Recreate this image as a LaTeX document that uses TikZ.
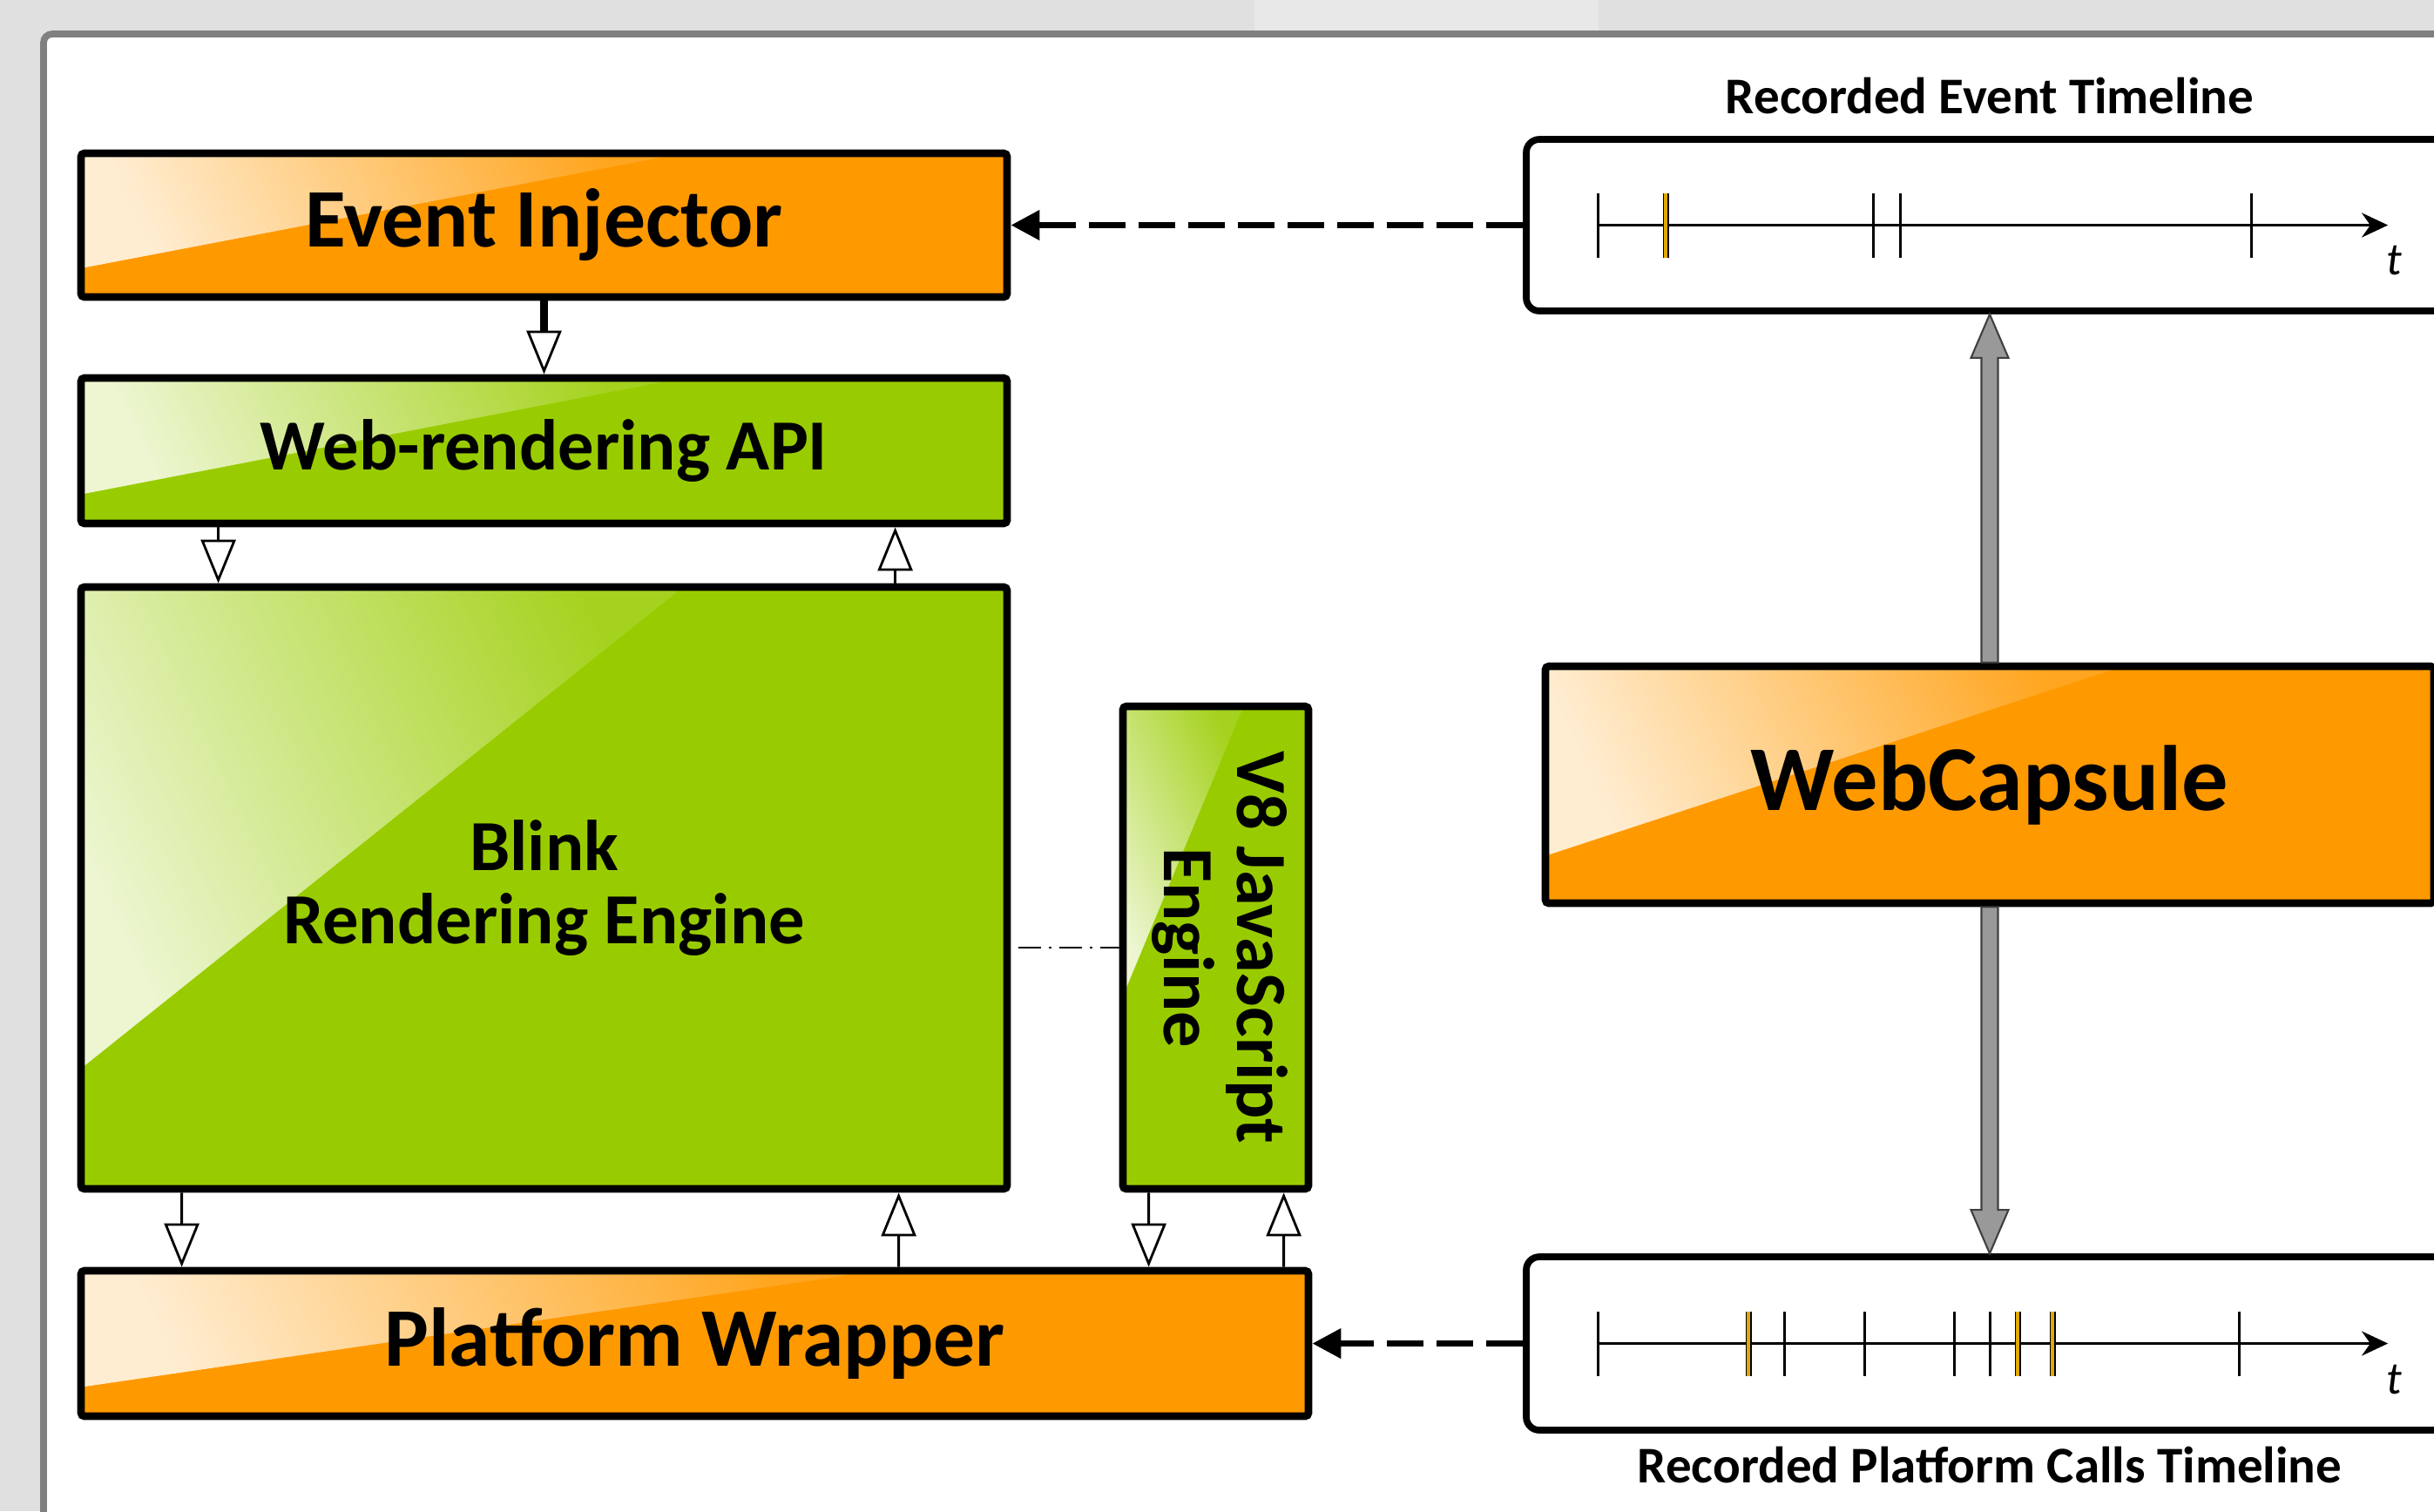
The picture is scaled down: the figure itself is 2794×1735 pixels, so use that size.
\documentclass[tikz,border=0pt]{standalone}
\usepackage{fontspec}
\setmainfont{Carlito}
\usetikzlibrary{arrows.meta,calc,positioning}

\definecolor{boxorange}{RGB}{255,153,0}
\definecolor{boxgreen}{RGB}{153,204,0}
\definecolor{pagegray}{RGB}{224,224,224}
\definecolor{framegray}{RGB}{128,128,128}
\definecolor{pipegray}{RGB}{153,153,153}
\definecolor{tickgold}{RGB}{224,168,0}

% wide grey pipe from anchor #1 to anchor #2 (tip at #2)
\newcommand{\pipearrow}[2]{%
  \path (#2) coordinate (pipetip) ($(#2)!5mm!(#1)$) coordinate (pipeneck);
  \filldraw[pipe] ($(#1)!0.95mm!90:(#2)$) -- ($(pipeneck)!0.95mm!90:(pipetip)$)
    -- ($(pipeneck)!2.15mm!90:(pipetip)$) -- (pipetip)
    -- ($(pipeneck)!2.15mm!-90:(pipetip)$) -- ($(pipeneck)!0.95mm!-90:(pipetip)$)
    -- ($(#1)!0.95mm!-90:(#2)$) -- cycle;
}

\begin{document}
\begin{tikzpicture}[
        x=0.1mm, y=-0.1mm,
        gloss depth/.store in=\glossdepth, gloss depth=0.8,
        block/.style={draw, line width=2.5pt, fill=#1, rounded corners=0.4mm, inner sep=0pt, align=center,
            path picture={
                \coordinate (gNW) at (path picture bounding box.north west);
                \coordinate (gNE) at (path picture bounding box.north east);
                \coordinate (gSW) at (path picture bounding box.south west);
                \shade[left color=#1!18!white, right color=#1!88!white, shading angle=115]
                    (gNW) -- ($(gNW)!0.65!(gNE)$) -- ($(gNW)!\glossdepth!(gSW)$) -- cycle;}},
        bigtext/.style={font=\bfseries\fontsize{27.2pt}{28pt}\selectfont},
        midtext/.style={font=\bfseries\fontsize{23.5pt}{24pt}\selectfont},
        lane/.style={draw, line width=2.2pt, fill=white, rounded corners=1.5mm, minimum width=106.4mm, minimum height=19.7mm},
        lanetitle/.style={font=\bfseries\fontsize{16.8pt}{18pt}\selectfont, inner sep=0pt},
        tlabel/.style={font=\normalfont\itshape\fontsize{15pt}{16pt}\selectfont, inner sep=0pt},
        flow/.style={line width=0.8pt, -{Triangle[fill=white, length=5mm, width=4mm]}},
        replay/.style={line width=2.1pt, dash pattern=on 4.2mm off 1.5mm, -{Triangle[length=3.3mm, width=3.3mm]}},
        timeaxis/.style={line width=1.1pt, -{Stealth[length=3mm, width=2.8mm]}},
        tick/.style={line width=0.9pt},
        goldtick/.style={draw=black, line width=0.5pt, double=tickgold, double distance=1pt},
        pipe/.style={fill=pipegray, draw=black!75, line width=0.6pt, line join=miter}
    ]
    \useasboundingbox (0,0) rectangle (2794,1735);
    % screen background and panel
    \fill[pagegray] (0,0) rectangle (2794,1735);
    \fill[black!9] (1440,0) rectangle (1835,35);
    \fill[white] (50,39) rectangle (3000,2000);
    \draw[framegray, line width=2.2pt, rounded corners=1mm] (50,2000) |- (3000,39);

    % browser side
    \node[block=boxorange, bigtext, minimum width=106.3mm, minimum height=16.5mm] (ei) at (624.5,258.5) {Event Injector};
    \node[block=boxgreen, midtext, minimum width=106.3mm, minimum height=16.7mm] (wr) at (624.5,517.5) {Web-rendering API};
    \node[block=boxgreen, midtext, minimum width=106.3mm, minimum height=69.1mm] (blink) at (624.5,1019.5) {Blink\\Rendering Engine};
    \node[block=boxgreen, midtext, gloss depth=0.6, minimum width=21.3mm, minimum height=55.4mm] (v8) at (1395.5,1088)
        {\rotatebox{-90}{\begin{tabular}{@{}c@{}}V8 JavaScript\\Engine\end{tabular}}};
    \node[block=boxorange, bigtext, minimum width=140.9mm, minimum height=16.7mm] (pw) at (797.5,1542.5) {Platform Wrapper};

    % recorder side
    \node[block=boxorange, font=\bfseries\fontsize{30.3pt}{32pt}\selectfont, minimum width=102mm, minimum height=27.2mm] (wc) at (2284,901) {WebCapsule};
    \node[lane] (tlev) at (2284,258.5) {};
    \node[lane, minimum height=19.9mm] (tlpc) at (2284,1542.5) {};
    \node[lanetitle, anchor=base] (evtitle) at ($(tlev.north)+(0,-26)$) {Recorded Event Timeline};
    \node[lanetitle, anchor=base] (pctitle) at ($(tlpc.south)+(0,57)$) {Recorded Platform Calls Timeline};

    % event timeline
    \coordinate (evstart) at ([xshift=8.6mm]tlev.west);
    \coordinate (evend) at ([xshift=99.3mm]tlev.west);
    \draw[timeaxis] (evstart) -- (evend);
    \foreach \d in {0,316,347,750}
        \draw[tick] ($(evstart)+(\d,-37)$) -- ($(evstart)+(\d,37)$);
    \draw[goldtick] ($(evstart)+(78,-37)$) -- ($(evstart)+(78,37)$);
    \node[tlabel] (evt) at ($(evend)+(7,41)$) {t};

    % platform calls timeline
    \coordinate (pcstart) at ([xshift=8.6mm]tlpc.west);
    \coordinate (pcend) at ([xshift=99.3mm]tlpc.west);
    \draw[timeaxis] (pcstart) -- (pcend);
    \foreach \d in {0,214,306,409,450,736}
        \draw[tick] ($(pcstart)+(\d,-37)$) -- ($(pcstart)+(\d,37)$);
    \foreach \d in {173,482,522}
        \draw[goldtick] ($(pcstart)+(\d,-37)$) -- ($(pcstart)+(\d,37)$);
    \node[tlabel] (pct) at ($(pcend)+(7,41)$) {t};

    % calls between layers
    \draw[line width=2.3pt, -{Triangle[fill=white, line width=0.8pt, length=5mm, width=4mm]}] (ei) -- (wr);
    \draw[flow] ([xshift=16.2mm]wr.south west) -- ([xshift=16.2mm]blink.north west);
    \draw[flow] ([xshift=93.9mm]blink.north west) -- ([xshift=93.9mm]wr.south west);
    \draw[flow] ([xshift=12mm]blink.south west) -- ([xshift=12mm]pw.north west);
    \draw[flow] ([xshift=94.3mm]pw.north west) -- ([xshift=94.3mm]blink.south west);
    \draw[flow] ([xshift=3.4mm]v8.south west) -- ([xshift=123mm]pw.north west);
    \draw[flow] ([xshift=138.5mm]pw.north west) -- ([xshift=18.9mm]v8.south west);
    \draw[line width=0.8pt, dash pattern=on 2.6mm off 0.9mm on 0.3mm off 0.9mm, dash phase=3.8mm] (blink.east |- v8.west) -- (v8.west);

    % replay and recording
    \draw[replay] (tlev) -- (ei);
    \draw[replay] (tlpc) -- (pw);
    \pipearrow{wc.north}{tlev.south}
    \pipearrow{wc.south}{tlpc.north}
\end{tikzpicture}
\end{document}
